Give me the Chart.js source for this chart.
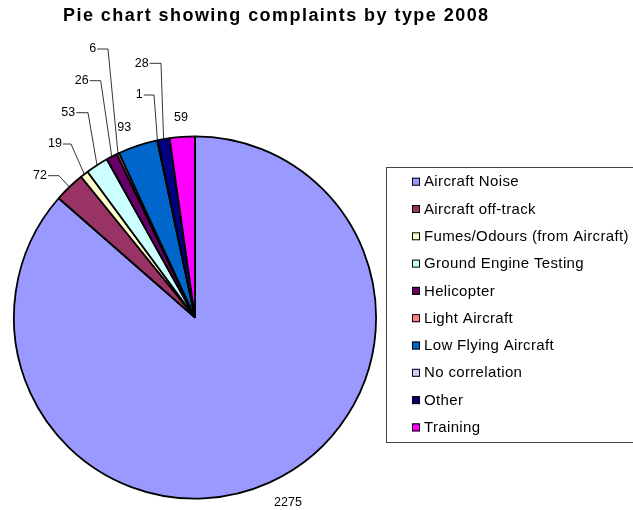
<!DOCTYPE html>
<html lang="en">
    <head>
        <meta charset="UTF-8" />
        <title>Complaints by type 2008</title>
        <script src="https://cdn.jsdelivr.net/npm/chart.js"></script>
        <style>
            body {
                margin: 0;
                background: #fff;
            }
            .chart-container {
                position: relative;
                width: 633px;
                height: 510px;
            }
        </style>
    </head>
    <body>
        <div class="chart-container">
            <canvas id="pieChart"></canvas>
        </div>

        <script>
            const chartTitle = "Pie chart showing complaints by type 2008";

            const complaintTypes = [
                "Aircraft Noise",
                "Aircraft off-track",
                "Fumes/Odours (from Aircraft)",
                "Ground Engine Testing",
                "Helicopter",
                "Light Aircraft",
                "Low Flying Aircraft",
                "No correlation",
                "Other",
                "Training",
            ];

            const complaintCounts = [2275, 72, 19, 53, 26, 6, 93, 1, 28, 59];

            const sliceColours = [
                "#9999FF",
                "#993366",
                "#FFFFCC",
                "#CCFFFF",
                "#660066",
                "#FF8080",
                "#0066CC",
                "#CCCCFF",
                "#000080",
                "#FF00FF",
            ];

            // where each value label sits, relative to the pie centre (Excel lets you drag these)
            // elbow = x offset where the leader line stops running flat and heads for the slice
            const labelSpots = [
                { dx: 93, dy: 185.5 },
                { dx: -155, dy: -141.8, elbow: -136 },
                { dx: -140, dy: -173.5, elbow: -124 },
                { dx: -126.7, dy: -204.8, elbow: -107 },
                { dx: -113.3, dy: -236.8, elbow: -94.3 },
                { dx: -102.3, dy: -268.5, elbow: -87 },
                { dx: -70.7, dy: -190.2 },
                { dx: -55.7, dy: -222.5, elbow: -41 },
                { dx: -53.3, dy: -254.2, elbow: -34 },
                { dx: -14, dy: -200.2 },
            ];

            const valueLabels = {
                id: "valueLabels",
                afterDatasetsDraw(chart) {
                    const ctx = chart.ctx;
                    const meta = chart.getDatasetMeta(0);
                    const values = chart.data.datasets[0].data;
                    ctx.save();
                    ctx.font = "12.5px 'Liberation Sans', Arial, sans-serif";
                    ctx.fillStyle = "#000";
                    ctx.strokeStyle = "#000";
                    ctx.lineWidth = 0.8;
                    ctx.textAlign = "center";
                    ctx.textBaseline = "middle";
                    meta.data.forEach((arc, i) => {
                        const spot = labelSpots[i];
                        const tx = arc.x + spot.dx;
                        const ty = arc.y + spot.dy;
                        const text = String(values[i]);
                        ctx.fillText(text, tx, ty);
                        if (spot.elbow !== undefined) {
                            const w = ctx.measureText(text).width;
                            const mid = (arc.startAngle + arc.endAngle) / 2;
                            const ex = arc.x + Math.cos(mid) * arc.outerRadius;
                            const ey = arc.y + Math.sin(mid) * arc.outerRadius;
                            ctx.beginPath();
                            ctx.moveTo(tx + w / 2 + 1, ty);
                            ctx.lineTo(arc.x + spot.elbow, ty);
                            ctx.lineTo(ex, ey);
                            ctx.stroke();
                        }
                    });
                    ctx.restore();
                },
            };

            const titleAndLegend = {
                id: "titleAndLegend",
                afterDraw(chart) {
                    const ctx = chart.ctx;
                    const ds = chart.data.datasets[0];
                    ctx.save();

                    ctx.font = "bold 18px 'Liberation Sans', Arial, sans-serif";
                    ctx.letterSpacing = "1.45px";
                    ctx.fillStyle = "#000";
                    ctx.textBaseline = "alphabetic";
                    ctx.textAlign = "left";
                    ctx.fillText(chartTitle, 63, 21);

                    // legend frame runs off the right edge like the original
                    ctx.letterSpacing = "0px";
                    ctx.strokeStyle = "#444";
                    ctx.lineWidth = 1;
                    ctx.strokeRect(386.5, 167.5, 260, 275);

                    ctx.font = "15px 'Liberation Sans', Arial, sans-serif";
                    ctx.letterSpacing = "0.35px";
                    ctx.textBaseline = "middle";
                    chart.data.labels.forEach((label, i) => {
                        const y = 181.7 + i * 27.3;
                        ctx.fillStyle = ds.backgroundColor[i];
                        ctx.fillRect(412, y - 4, 8, 8);
                        ctx.strokeStyle = "#000";
                        ctx.strokeRect(412.5, y - 3.5, 7, 7);
                        ctx.fillStyle = "#000";
                        ctx.fillText(label, 424, y + 0.5);
                    });
                    ctx.restore();
                },
            };

            new Chart(document.getElementById("pieChart"), {
                type: "pie",
                data: {
                    labels: complaintTypes,
                    datasets: [
                        {
                            data: complaintCounts,
                            backgroundColor: sliceColours,
                            borderColor: "#000",
                            borderWidth: 1.8,
                        },
                    ],
                },
                options: {
                    responsive: true,
                    maintainAspectRatio: false,
                    animation: false,
                    layout: {
                        padding: { top: 135, left: 13, right: 256, bottom: 10 },
                    },
                    plugins: {
                        legend: { display: false },
                        title: { display: false },
                        tooltip: { enabled: false },
                    },
                },
                plugins: [valueLabels, titleAndLegend],
            });
        </script>
    </body>
</html>
